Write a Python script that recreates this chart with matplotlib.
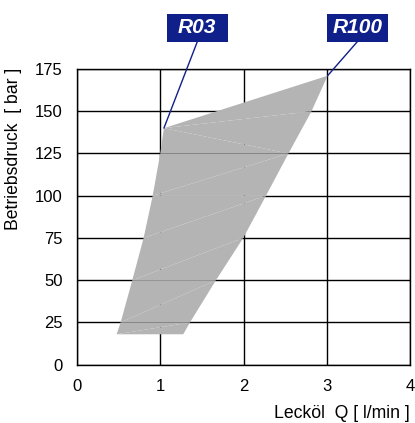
import matplotlib
matplotlib.use("Agg")
import matplotlib.pyplot as plt
from matplotlib.patches import Rectangle, Polygon

plt.rcParams['font.family'] = ['Liberation Sans', 'DejaVu Sans']

# Left edge of the operating region (pressure, flow)
left_p = [18, 25, 50, 75, 100, 125, 140]
left_q = [0.476, 0.524, 0.664, 0.80, 0.909, 1.0, 1.044]
# Right edge of the operating region
right_p = [18, 25, 50, 75, 100, 125, 150, 171]
right_q = [1.276, 1.357, 1.669, 1.997, 2.27, 2.54, 2.817, 3.01]

x_ticks = [0, 1, 2, 3, 4]
y_ticks = [0, 25, 50, 75, 100, 125, 150, 175]
labels = ["R03", "R100"]
label_points = [(left_q[-1], left_p[-1]), (right_q[-1], right_p[-1])]

fig = plt.figure(figsize=(4.15, 4.23), dpi=100)
ax = fig.add_axes([77/415, 1-364.7/423, (410-77)/415, (364.7-69)/423])

# triangle strip to imitate the seams of the original
L = list(zip(left_q, left_p))
R = list(zip(right_q, right_p))
i, j = 0, 0
tris = []
while i < len(L)-1 or j < len(R)-1:
    if j < len(R)-1 and (i >= len(L)-1 or R[j+1][1] <= L[i+1][1]):
        tris.append([L[i], R[j], R[j+1]]); j += 1
    else:
        tris.append([L[i], R[j], L[i+1]]); i += 1
for t in tris:
    ax.add_patch(Polygon(t, closed=True, facecolor='#b4b4b4', edgecolor='none',
                         antialiased=True, zorder=3))

ax.set_xlim(0, 4)
ax.set_ylim(0, 175)
ax.set_xticks(x_ticks)
ax.set_yticks(y_ticks)
ax.grid(True, color='black', linewidth=1.0, zorder=1)
ax.set_axisbelow(True)
for s in ax.spines.values():
    s.set_color('black'); s.set_linewidth(1.0); s.set_zorder(2)
ax.tick_params(length=0, labelsize=12, colors='black')
ax.tick_params(axis='x', pad=10.5)
ax.tick_params(axis='y', pad=10.5)

fig.text(410/415, 1-413/423, "Lecköl  Q [ l/min ]", ha='right', va='center', fontsize=12.7)
fig.text(14/415, 1-68/423, "Betriebsdruck  [ bar ]", rotation=90, ha='center', va='top', fontsize=12.7)

box_cx = [197.3/415, 357.3/415]
for lab, cx, pt in zip(labels, box_cx, label_points):
    w, h = 61/415, 28/423
    yb = 1-41.7/423
    fig.patches.append(Rectangle((cx-w/2, yb), w, h, transform=fig.transFigure,
                                 facecolor='#10208a', edgecolor='none', zorder=5))
    fig.text(cx, yb+h/2, lab, ha='center', va='center', color='white',
             fontsize=15, fontweight='bold', fontstyle='italic', zorder=6)
    ax.annotate("", xy=pt, xycoords='data', xytext=(cx, yb), textcoords='figure fraction',
                arrowprops=dict(arrowstyle='-', color='#10208a', lw=1.0,
                                shrinkA=0, shrinkB=0), annotation_clip=False, zorder=6)

fig.savefig("out.png", dpi=100)
